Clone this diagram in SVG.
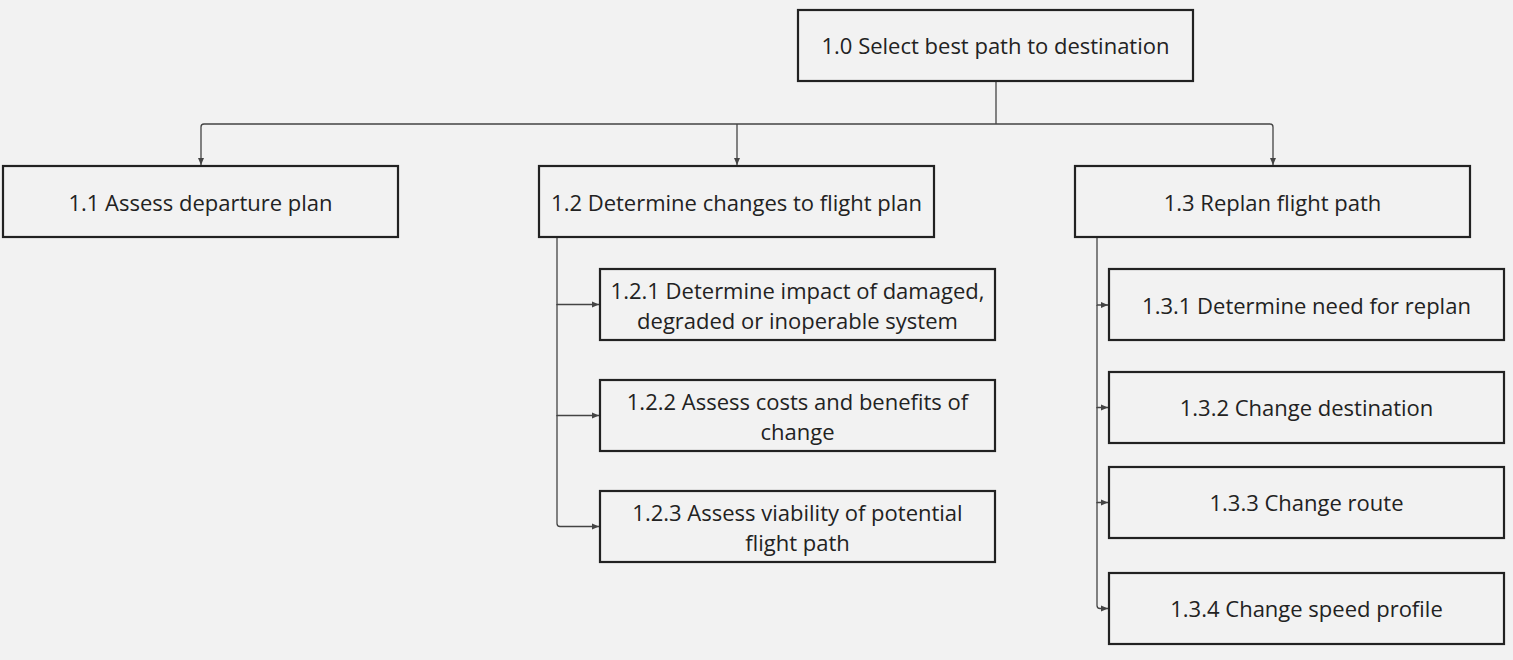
<svg xmlns="http://www.w3.org/2000/svg" width="1513" height="660" viewBox="0 0 1513 660">
<style>
.box{fill:#f2f2f2;stroke:#222;stroke-width:2.2}
.t{font-family:"Open Sans","DejaVu Sans",sans-serif;font-size:22px;fill:#222;text-anchor:middle;dominant-baseline:central}
.c{fill:none;stroke:#444;stroke-width:1.3}
</style>
<defs>
<marker id="a" markerUnits="userSpaceOnUse" markerWidth="8" markerHeight="8" refX="7" refY="4" orient="auto">
<path d="M0,1 L7,4 L0,7 Z" fill="#444"/>
</marker>
</defs>
<rect width="1513" height="660" fill="#f2f2f2"/>
<g id="connectors">
<path class="c" d="M996,81 V124"/>
<path class="c" d="M996,124 H204 Q201,124 201,127 V165" marker-end="url(#a)"/>
<path class="c" d="M737,124 V165" marker-end="url(#a)"/>
<path class="c" d="M996,124 H1270 Q1273,124 1273,127 V165" marker-end="url(#a)"/>
<path class="c" d="M557,237 V304.5 H599" marker-end="url(#a)"/>
<path class="c" d="M557,304 V415.5 H599" marker-end="url(#a)"/>
<path class="c" d="M557,415 V523.5 Q557,526.5 560,526.5 H599" marker-end="url(#a)"/>
<path class="c" d="M1097,237 V305 H1108" marker-end="url(#a)"/>
<path class="c" d="M1097,305 V407.5 H1108" marker-end="url(#a)"/>
<path class="c" d="M1097,407 V502.5 H1108" marker-end="url(#a)"/>
<path class="c" d="M1097,502 V605.5 Q1097,608.5 1100,608.5 H1108" marker-end="url(#a)"/>
</g>
<g id="n1_0"><rect class="box" x="798" y="10" width="395" height="71"/><text class="t" x="995.5" y="45">1.0 Select best path to destination</text></g>
<g id="n1_1"><rect class="box" x="3" y="166" width="395" height="71"/><text class="t" x="200.5" y="202">1.1 Assess departure plan</text></g>
<g id="n1_2"><rect class="box" x="539" y="166" width="395" height="71"/><text class="t" x="736.5" y="202">1.2 Determine changes to flight plan</text></g>
<g id="n1_3"><rect class="box" x="1075" y="166" width="395" height="71"/><text class="t" x="1272.5" y="202">1.3 Replan flight path</text></g>
<g id="n1_2_1"><rect class="box" x="600" y="269" width="395" height="71"/><text class="t" x="797.5" y="290">1.2.1 Determine impact of damaged,</text><text class="t" x="797.5" y="320">degraded or inoperable system</text></g>
<g id="n1_2_2"><rect class="box" x="600" y="380" width="395" height="71"/><text class="t" x="797.5" y="401">1.2.2 Assess costs and benefits of</text><text class="t" x="797.5" y="431">change</text></g>
<g id="n1_2_3"><rect class="box" x="600" y="491" width="395" height="71"/><text class="t" x="797.5" y="512">1.2.3 Assess viability of potential</text><text class="t" x="797.5" y="542">flight path</text></g>
<g id="n1_3_1"><rect class="box" x="1109" y="269" width="395" height="71"/><text class="t" x="1306.5" y="305">1.3.1 Determine need for replan</text></g>
<g id="n1_3_2"><rect class="box" x="1109" y="372" width="395" height="71"/><text class="t" x="1306.5" y="407">1.3.2 Change destination</text></g>
<g id="n1_3_3"><rect class="box" x="1109" y="467" width="395" height="71"/><text class="t" x="1306.5" y="502">1.3.3 Change route</text></g>
<g id="n1_3_4"><rect class="box" x="1109" y="573" width="395" height="71"/><text class="t" x="1306.5" y="608">1.3.4 Change speed profile</text></g>
</svg>
